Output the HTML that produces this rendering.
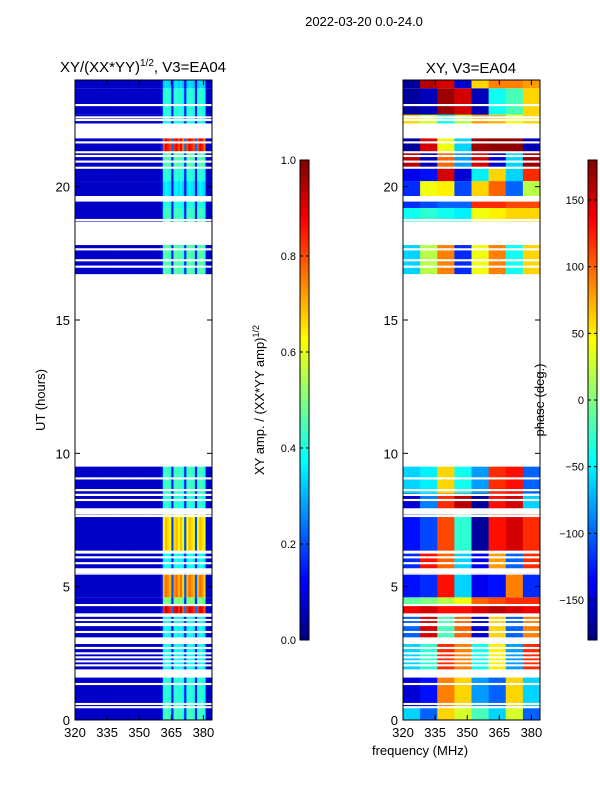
<!DOCTYPE html>
<html><head><meta charset="utf-8">
<style>
html,body{margin:0;padding:0;background:#fff;}
svg text{font-family:"Liberation Sans",sans-serif;fill:#000;}
</style></head>
<body>
<svg id="fig" width="600" height="800" viewBox="0 0 600 800" xmlns="http://www.w3.org/2000/svg">
<text x="364" y="26" font-size="13" text-anchor="middle">2022-03-20 0.0-24.0</text>
<text x="143" y="72" font-size="15" text-anchor="middle">XY/(XX*YY)<tspan font-size="10" dy="-6">1/2</tspan><tspan dy="6">, V3=EA04</tspan></text>
<text x="471" y="73" font-size="15" text-anchor="middle">XY, V3=EA04</text>
<text x="0" y="0" font-size="13" text-anchor="middle" transform="translate(45,400) rotate(-90)">UT (hours)</text>
<text x="420" y="755" font-size="13" text-anchor="middle">frequency (MHz)</text>
<text x="0" y="0" font-size="13" text-anchor="middle" transform="translate(264,400) rotate(-90)">XY amp. / (XX*YY amp)<tspan font-size="9" dy="-5">1/2</tspan></text>
<text x="0" y="0" font-size="13" text-anchor="middle" transform="translate(544,400) rotate(-90)">phase (deg.)</text>
<g id="layer"></g>
</svg>
<script>
// ---- data ----
const timeBins = [[0,0.5],[0.5,1.6],[1.9,2.9],[3.1,3.9],[3.9,4.3],[4.3,4.6],[4.6,5.45],[5.5,6.3],[6.3,7.7],[7.8,8.5],[8.5,9.5],
  [16.72,17.81],[18.69,19.2],[19.2,19.44],[19.65,20.21],[20.21,20.7],[20.7,21.3],[21.3,21.81],[22.37,22.7],[22.7,23.69],[23.69,24]];
const ampLevel = [0.38,0.36,0.33,0.32,0.85,0.45,0.7,0.33,0.62,0.36,0.38,0.4,0.38,0.35,0.3,0.36,0.4,0.82,0.33,0.36,0.28];
const phaseGroups = [320,328,336,344,352,360,368,376,384];
const phaseVals = [
 [-60,-100,60,30,-20,-60,30,-100],
 [-150,-130,90,60,-80,-100,60,-60],
 [-60,-30,120,90,-40,50,-80,120],
 [-100,150,-20,100,-150,60,-100,90],
 [140,150,130,130,150,160,150,140],
 [-10,0,20,40,100,110,120,120],
 [-130,-120,130,-60,-140,-130,90,-120],
 [-120,130,100,-60,-140,80,-100,120],
 [-130,-110,110,-30,-170,130,150,120],
 [-150,-90,120,160,-170,130,150,-60],
 [-60,-50,60,-40,-80,120,130,-100],
 [-60,20,90,-120,40,90,-40,60],
 [-40,-30,-40,-50,40,50,60,60],
 [-120,-110,-100,-100,120,120,110,110],
 [-120,40,50,-110,60,100,-100,20],
 [-140,-130,150,-150,-50,60,-60,120],
 [160,-160,100,-80,150,-150,-60,170],
 [-170,150,40,-60,170,175,175,-160],
 [60,30,-40,20,80,70,40,60],
 [-170,-160,170,150,-160,-40,-20,60],
 [-170,160,150,-150,60,90,90,80]];
// channel gain per 1 MHz channel 320..383
const chanGain = [0,0,0,0,0,0,0,0,0,0,0,0,0,0,0,0,0,0,0,0,0,0,0,0,0,0,0,0,0,0,0,0,0,0,0,0,0,0,0,0,
  0.1,0.9,1,0.95,0.9,0.2,0.95,1,0.9,1,0.85,0.2,0.9,1,0.95,0.9,0.2,0.9,1,0.95,0.85,0,0,0];
const gaps = [0.48,0.6,1.35,[1.59,1.87],2.05,2.2,2.35,2.5,2.7,[2.85,3.09],3.3,[3.52,3.64],3.75,[3.87,4.0],4.31,
  [5.5,5.69],5.88,6.1,[6.24,6.35],7.65,[7.77,7.94],8.25,8.44,8.62,9.06,
  17.0,17.24,17.65,18.75,20.71,20.94,21.15,21.29,21.66,22.5,22.6,23.06];
const yTicks = [0,5,10,15,20];
const xTicks = [320,335,350,365,380];
const ampTicks = [0.0,0.2,0.4,0.6,0.8,1.0];
const phaseTicks = [150,100,50,0,-50,-100,-150];

// ---- scales ----
const T0=80,B0=720;
const yS = h => B0 - (h/24)*(B0-T0);
const panels=[{x0:75,name:'amp'},{x0:403,name:'phase'}];
const PW=137;
const xS = (x0,f) => x0 + (f-320)/64*PW;
function jet(v){v=Math.max(0,Math.min(1,v));
 const c=t=>Math.round(255*Math.max(0,Math.min(1,1.5-Math.abs(t))));
 return `rgb(${c(4*v-3)},${c(4*v-2)},${c(4*v-1)})`;}
const NS='http://www.w3.org/2000/svg';
const layer=document.getElementById('layer');
function mk(tag,attrs,parent){const e=document.createElementNS(NS,tag);for(const k in attrs)e.setAttribute(k,attrs[k]);(parent||layer).appendChild(e);return e;}

// amplitude heatmap
const gA=mk('g',{});


timeBins.forEach((b,i)=>{
  for(let c=0;c<64;c++){
    const v=0.07+chanGain[c]*ampLevel[i];
    const r=mk('rect',{x:xS(75,320+c),y:yS(b[1]),width:PW/64+0.3,height:yS(b[0])-yS(b[1]),fill:jet(v)},gA);
    
    
  }
});
// phase heatmap
const gP=mk('g',{});


timeBins.forEach((b,i)=>{
  for(let g=0;g<8;g++){
    const x1=xS(403,phaseGroups[g]),x2=xS(403,phaseGroups[g+1]);
    const r=mk('rect',{x:x1,y:yS(b[1]),width:x2-x1+0.3,height:yS(b[0])-yS(b[1]),fill:jet((phaseVals[i][g]+180)/360)},gP);
    
    
  }
});
// gaps
panels.forEach(p=>{
  gaps.forEach(gp=>{
    let a,b; if(Array.isArray(gp)){a=gp[0];b=gp[1];}else{a=gp-0.04;b=gp+0.04;}
    const r=mk('rect',{x:p.x0,y:yS(b),width:PW,height:yS(a)-yS(b),fill:'#fff'});
    
    
  });
});
// axes
panels.forEach(p=>{
  const f=mk('rect',{x:p.x0,y:T0,width:PW,height:B0-T0,fill:'none',stroke:'#000','stroke-width':1});
  
  
  yTicks.forEach(t=>{
    const y=yS(t);
    mk('line',{x1:p.x0,x2:p.x0+5,y1:y,y2:y,stroke:'#000'});
    mk('line',{x1:p.x0+PW,x2:p.x0+PW-5,y1:y,y2:y,stroke:'#000'});
    const tx=mk('text',{x:p.x0-5,y:y+5,'font-size':13,'text-anchor':'end'});tx.textContent=t;
    
    
  });
  xTicks.forEach(t=>{
    const x=xS(p.x0,t);
    mk('line',{x1:x,x2:x,y1:B0,y2:B0-5,stroke:'#000'});
    mk('line',{x1:x,x2:x,y1:T0,y2:T0+5,stroke:'#000'});
    const tx=mk('text',{x:x,y:B0+17,'font-size':13,'text-anchor':'middle'});tx.textContent=t;
    
    
  });
});
// colorbars
function colorbar(x,name,ticks,toFrac,fmt){
  const g=mk('g',{});
  
  
  const N=120;
  for(let i=0;i<N;i++){
    mk('rect',{x:x,y:640-(i+1)*480/N,width:9,height:480/N+0.5,fill:jet((i+0.5)/N)},g);
  }
  mk('rect',{x:x,y:160,width:9,height:480,fill:'none',stroke:'#000'},g);
  ticks.forEach(t=>{
    const y=640-toFrac(t)*480;
    mk('line',{x1:x,x2:x+3,y1:y,y2:y,stroke:'#000'},g);
    mk('line',{x1:x+9,x2:x+6,y1:y,y2:y,stroke:'#000'},g);
    const tx=mk('text',{x:x-4,y:y+4,'font-size':11,'text-anchor':'end'},g);tx.textContent=fmt(t);
    
    
  });
}
colorbar(300,'amp-colorbar',ampTicks,t=>t,t=>t.toFixed(1));
colorbar(588,'phase-colorbar',phaseTicks,t=>(t+180)/360,t=>t<0?'\u2212'+(-t):String(t));
</script>
</body></html>
